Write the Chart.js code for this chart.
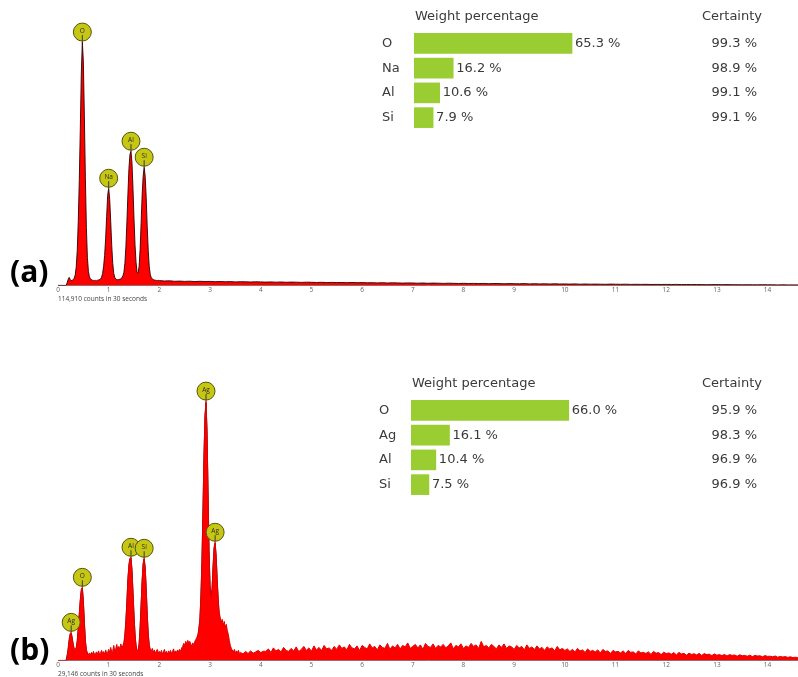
<!DOCTYPE html>
<html>
<head>
<meta charset="utf-8">
<script src="https://cdn.jsdelivr.net/npm/chart.js@4.4.1/dist/chart.umd.min.js"></script>
<style>
  html, body { margin: 0; padding: 0; background: #fff; width: 798px; height: 677px; overflow: hidden; }
  .box { position: absolute; }
  .tag { position: absolute; font-family: 'Open Sans', sans-serif; font-weight: 700; font-size: 30px; line-height: 1; color: #000; }
</style>
</head>
<body>
<div class="box" style="left:0;top:0"><canvas id="specA" width="798" height="303"></canvas></div>
<div class="box" style="left:370px;top:0"><canvas id="tableA" width="428" height="135"></canvas></div>
<div class="box" style="left:0;top:310px"><canvas id="specB" width="798" height="368"></canvas></div>
<div class="box" style="left:370px;top:370px"><canvas id="tableB" width="428" height="135"></canvas></div>
<div class="tag" style="left:10px;top:256px">(a)</div>
<div class="tag" style="left:10px;top:634px">(b)</div>

<script>
// ---------- Spectrum (a) ----------
// counts per channel, 0.00–1.98 keV in 0.02 keV channels
const countsA_low = [
  0, 0, 0, 0, 0, 0, 0, 0, 0, 25,
  60, 80, 60, 48, 50, 58, 72, 105, 185, 350,
  640, 1050, 1560, 2120, 2430, 2240, 1700, 1080, 580, 280,
  140, 85, 64, 58, 52, 50, 47, 50, 46, 52,
  55, 58, 64, 82, 120, 190, 300, 470, 690, 900,
  970, 860, 640, 400, 220, 120, 80, 64, 58, 56,
  58, 62, 66, 76, 95, 130, 220, 390, 640, 920,
  1170, 1310, 1340, 1220, 960, 660, 400, 230, 130, 120,
  190, 360, 620, 900, 1090, 1180, 1090, 880, 590, 350,
  190, 110, 78, 64, 58, 54, 52, 50, 48, 50
];
// counts per channel, 2.0–14.6 keV in 0.1 keV channels
const countsA_high = [
  48, 44, 46, 41, 43, 40, 42, 38, 41, 39,
  40, 37, 39, 36, 38, 35, 37, 36, 34, 36,
  35, 33, 35, 32, 34, 31, 33, 32, 30, 32,
  31, 29, 31, 28, 30, 28, 29, 27, 29, 27,
  28, 26, 27, 25, 27, 24, 26, 25, 23, 25,
  24, 22, 24, 21, 23, 22, 20, 22, 21, 19,
  21, 19, 20, 18, 20, 17, 19, 18, 16, 18,
  17, 16, 18, 15, 17, 15, 16, 14, 16, 14,
  15, 13, 15, 12, 14, 12, 13, 12, 11, 13,
  12, 11, 12, 10, 11, 10, 11, 9, 10, 9,
  10, 9, 10, 8, 9, 8, 9, 8, 7, 8,
  8, 7, 8, 7, 7, 6, 7, 6, 6, 7,
  6, 6, 5, 6, 5, 5, 5
];
const peakLabelsA = ['O', 'Na', 'Al', 'Si'];
const peakEnergiesA = [0.48, 1.00, 1.44, 1.70];
const elementsA = ['O', 'Na', 'Al', 'Si'];
const weightsA = [65.3, 16.2, 10.6, 7.9];
const certaintyA = [99.3, 98.9, 99.1, 99.1];
const totalCountsA = '114,910 counts in 30 seconds';

// ---------- Spectrum (b) ----------
// counts per channel, 0.00–3.58 keV in 0.02 keV channels
const countsB_low = [
  0, 0, 0, 0, 0, 0, 0, 0, 0, 40,
  120, 210, 270, 280, 230, 160, 120, 110, 130, 200,
  330, 470, 610, 710, 730, 600, 390, 200, 110, 70,
  60, 75, 55, 80, 62, 90, 58, 70, 85, 60,
  95, 65, 75, 100, 70, 88, 62, 105, 72, 80,
  110, 78, 130, 85, 95, 150, 90, 120, 160, 100,
  140, 110, 165, 120, 150, 180, 260, 400, 600, 820,
  960, 1020, 1030, 900, 680, 450, 260, 150, 100, 95,
  170, 330, 560, 800, 970, 1020, 930, 720, 470, 270,
  160, 110, 90, 120, 80, 105, 70, 95, 110, 75,
  90, 70, 100, 65, 85, 110, 70, 90, 60, 95,
  75, 100, 68, 90, 115, 72, 95, 80, 105, 85,
  110, 90, 125, 140, 170, 150, 190, 160, 200, 175,
  190, 165, 140, 175, 150, 190, 210, 230, 260, 320,
  420, 650, 1000, 1500, 2050, 2450, 2590, 2300, 1700, 1100,
  750, 630, 720, 950, 1130, 1180, 1050, 820, 620, 480,
  430, 380, 410, 350, 390, 330, 360, 300, 260, 200,
  150, 120, 100, 85, 110, 75, 95, 80, 100, 70
];
// counts per channel, 3.60–14.60 keV in 0.05 keV channels
const countsB_high = [
  80, 65, 90, 70, 95, 72, 85, 100, 78, 92,
  90, 115, 80, 125, 95, 110, 85, 130, 100, 90,
  120, 95, 135, 88, 110, 140, 100, 125, 92, 145,
  105, 130, 98, 150, 115, 125, 100, 140, 110, 155,
  120, 135, 105, 160, 125, 115, 145, 100, 150, 130,
  115, 165, 125, 140, 105, 155, 130, 120, 170, 110,
  145, 125, 160, 115, 150, 135, 175, 120, 140, 160,
  125, 155, 110, 170, 140, 130, 165, 120, 150, 135,
  160, 125, 145, 175, 115, 150, 135, 165, 120, 145,
  130, 170, 140, 155, 120, 190, 135, 150, 125, 160,
  140, 115, 155, 130, 165, 120, 145, 135, 110, 150,
  125, 140, 105, 155, 120, 135, 110, 145, 115, 130,
  100, 135, 115, 125, 95, 140, 105, 120, 100, 115,
  90, 110, 85, 120, 95, 105, 80, 115, 90, 100,
  85, 105, 75, 110, 90, 95, 70, 100, 85, 90,
  75, 95, 70, 100, 80, 85, 65, 95, 75, 80,
  70, 85, 60, 90, 72, 78, 58, 82, 68, 75,
  62, 78, 55, 80, 65, 70, 52, 72, 60, 66,
  55, 70, 50, 68, 58, 62, 48, 64, 52, 58,
  48, 60, 44, 58, 50, 54, 42, 56, 46, 50,
  42, 52, 38, 50, 44, 46, 36, 48, 40, 42,
  36, 44, 32, 40, 34, 38, 30, 36, 28, 32,
  26
];
// fitted spectrum (keV, counts)
const fitEnergyB = [
  0.16, 0.20, 0.22, 0.24, 0.26, 0.28, 0.30, 0.32, 0.34, 0.36,
  0.38, 0.40, 0.42, 0.44, 0.46, 0.48, 0.50, 0.52, 0.54, 0.56,
  0.60, 0.80, 1.00, 1.20, 1.30, 1.32, 1.34, 1.36, 1.38, 1.40,
  1.42, 1.44, 1.46, 1.48, 1.50, 1.52, 1.54, 1.56, 1.58, 1.60,
  1.62, 1.64, 1.66, 1.68, 1.70, 1.72, 1.74, 1.76, 1.78, 1.80,
  1.84, 2.00, 2.40, 2.60, 2.70, 2.76, 2.80, 2.82, 2.84, 2.86,
  2.88, 2.90, 2.92, 2.94, 2.96, 2.98, 3.00, 3.02, 3.04, 3.06,
  3.08, 3.10, 3.12, 3.14, 3.16, 3.18, 3.20, 3.26, 3.32, 3.40,
  3.50, 4.00, 6.00, 8.00, 10.00, 10.20, 12.00, 14.00, 14.60
];
const fitCountsB = [
  0, 100, 190, 255, 270, 220, 150, 105, 95, 115,
  185, 315, 455, 595, 695, 720, 590, 380, 190, 95,
  50, 45, 45, 50, 150, 240, 390, 590, 810, 950,
  1015, 1025, 895, 675, 445, 255, 140, 85, 80, 150,
  320, 550, 790, 960, 1015, 925, 715, 460, 260, 140,
  60, 60, 70, 110, 150, 220, 400, 630, 980, 1480,
  2030, 2430, 2575, 2290, 1690, 1090, 740, 620, 710, 940,
  1120, 1170, 1040, 810, 600, 450, 380, 320, 250, 120,
  60, 50, 48, 35, 32, 22, 18, 12, 10
];
const peakLabelsB = ['Ag', 'O', 'Al', 'Si', 'Ag', 'Ag'];
const peakEnergiesB = [0.26, 0.48, 1.44, 1.70, 2.92, 3.10];
const elementsB = ['O', 'Ag', 'Al', 'Si'];
const weightsB = [66.0, 16.1, 10.4, 7.5];
const certaintyB = [95.9, 98.3, 96.9, 96.9];
const totalCountsB = '29,146 counts in 30 seconds';

// ---------- helpers ----------
function channels(counts, start, step) {
  return counts.map((c, i) => ({ x: +(start + i * step).toFixed(2), y: c }));
}
function pairs(xs, ys) {
  return xs.map((x, i) => ({ x: x, y: ys[i] }));
}

Chart.defaults.font.family = "'Open Sans', sans-serif";
Chart.defaults.animation = false;

// circles with element symbols above the labelled peaks
const peakMarkers = {
  id: 'peakMarkers',
  afterDatasetsDraw(chart, args, opts) {
    if (!opts.labels) return;
    const { ctx, scales: { x, y } } = chart;
    const pts = chart.data.datasets[0].data;
    opts.labels.forEach((lab, i) => {
      const e = opts.energies[i];
      let best = pts[0];
      for (const p of pts) if (Math.abs(p.x - e) < Math.abs(best.x - e)) best = p;
      const px = x.getPixelForValue(best.x);
      const py = y.getPixelForValue(best.y);
      const cy = py - 10;
      ctx.save();
      ctx.beginPath();
      ctx.arc(px, cy, 9, 0, Math.PI * 2);
      ctx.fillStyle = '#c6c614';
      ctx.fill();
      ctx.strokeStyle = '#3a3a3a';
      ctx.lineWidth = 1;
      ctx.beginPath();
      ctx.moveTo(px, cy + 3);
      ctx.lineTo(px, py);
      ctx.stroke();
      ctx.beginPath();
      ctx.arc(px, cy, 9, 0, Math.PI * 2);
      ctx.strokeStyle = '#55550a';
      ctx.stroke();
      ctx.fillStyle = '#2a2a2a';
      ctx.font = "6.5px 'Open Sans'";
      ctx.textAlign = 'center';
      ctx.textBaseline = 'middle';
      ctx.fillText(lab, px, cy - 1);
      ctx.restore();
    });
  }
};

// header, element names, bar values and certainty column
const tableText = {
  id: 'tableText',
  afterDatasetsDraw(chart, args, opts) {
    if (!opts.certainty) return;
    const { ctx, chartArea: a } = chart;
    const meta = chart.getDatasetMeta(0);
    const vals = chart.data.datasets[0].data;
    ctx.save();
    ctx.font = "13px 'DejaVu Sans'";
    ctx.fillStyle = '#3a3a3a';
    ctx.textBaseline = 'middle';
    ctx.textAlign = 'left';
    ctx.fillText('Weight percentage', a.left + 1, a.top - 14);
    ctx.textAlign = 'right';
    ctx.fillText('Certainty', chart.width - 36, a.top - 14);
    meta.data.forEach((bar, i) => {
      ctx.textAlign = 'left';
      ctx.fillText(chart.data.labels[i], a.left - 32, bar.y);
      ctx.fillText(vals[i].toFixed(1) + ' %', bar.x + 3, bar.y);
      ctx.textAlign = 'right';
      ctx.fillText(opts.certainty[i].toFixed(1) + ' %', chart.width - 41, bar.y);
    });
    ctx.restore();
  }
};

function spectrumChart(id, datasets, yMax, padTop, title, labels, energies) {
  return new Chart(document.getElementById(id), {
    type: 'line',
    data: { datasets: datasets },
    options: {
      responsive: false,
      events: [],
      parsing: false,
      layout: { padding: { left: 58, right: 0, top: padTop, bottom: 0 } },
      elements: { point: { radius: 0 }, line: { tension: 0 } },
      scales: {
        x: {
          type: 'linear', min: 0, max: 14.6,
          grid: { display: false, drawTicks: false },
          border: { display: true, color: '#8a7a7a', width: 1 },
          ticks: { stepSize: 1, includeBounds: false, padding: 1, color: '#666', font: { size: 6.5 }, maxRotation: 0 },
          title: { display: true, text: title, align: 'start', color: '#444', font: { size: 6.5 }, padding: { top: 0, bottom: 0 } }
        },
        y: { display: false, min: 0, max: yMax }
      },
      plugins: {
        legend: { display: false },
        tooltip: { enabled: false },
        peakMarkers: { labels: labels, energies: energies }
      }
    },
    plugins: [peakMarkers]
  });
}

function tableChart(id, elements, weights, certainty, pad) {
  return new Chart(document.getElementById(id), {
    type: 'bar',
    data: {
      labels: elements,
      datasets: [{ data: weights, backgroundColor: '#9acd32', barThickness: 20, borderWidth: 0 }]
    },
    options: {
      responsive: false,
      events: [],
      indexAxis: 'y',
      layout: { padding: pad },
      scales: {
        x: { display: false, min: 0, max: 100 },
        y: { display: false }
      },
      plugins: {
        legend: { display: false },
        tooltip: { enabled: false },
        tableText: { certainty: certainty }
      }
    },
    plugins: [tableText]
  });
}

// (a)
spectrumChart('specA', [
  {
    data: channels(countsA_low, 0, 0.02).concat(channels(countsA_high, 2.0, 0.1)),
    borderColor: 'rgba(45,0,0,0.9)', borderWidth: 1,
    backgroundColor: '#ff0000', fill: 'origin'
  }
], 2800, 5, totalCountsA, peakLabelsA, peakEnergiesA);
tableChart('tableA', elementsA, weightsA, certaintyA, { left: 44, right: 142, top: 31, bottom: 5 });

// (b)
spectrumChart('specB', [
  {
    data: channels(countsB_low, 0, 0.02).concat(channels(countsB_high, 3.6, 0.05)),
    borderColor: '#e00000', borderWidth: 1,
    backgroundColor: '#ff0000', fill: 'origin'
  },
  {
    data: pairs(fitEnergyB, fitCountsB),
    borderColor: '#1a1a1a', borderWidth: 1, fill: false
  }
], 3460, 4, totalCountsB, peakLabelsB, peakEnergiesB);
tableChart('tableB', elementsB, weightsB, certaintyB, { left: 41, right: 148, top: 28, bottom: 8 });
</script>
</body>
</html>
